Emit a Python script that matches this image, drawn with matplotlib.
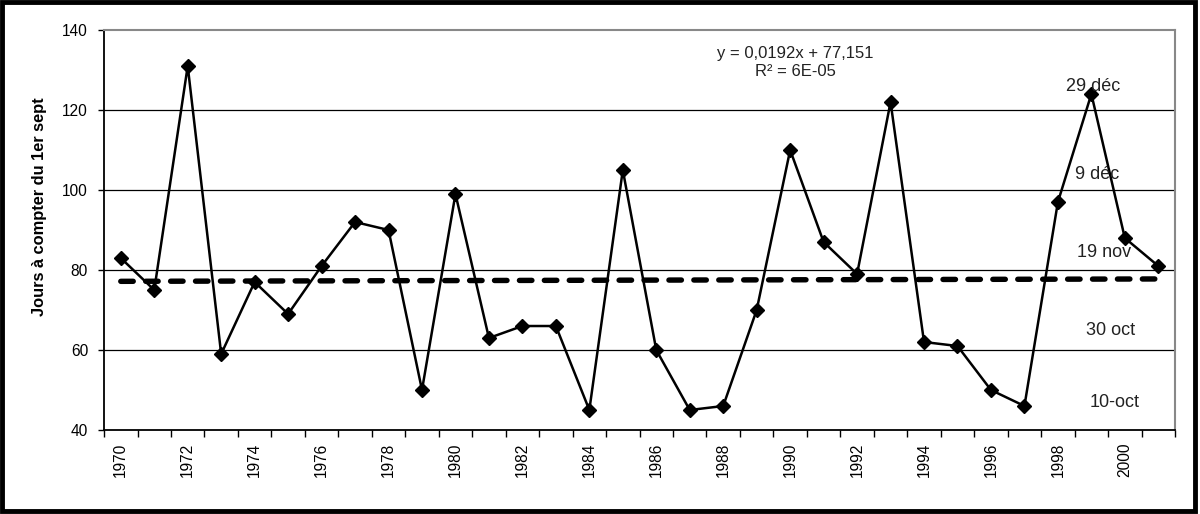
import numpy as np
import matplotlib
matplotlib.use('Agg')
import matplotlib.pyplot as plt
from matplotlib.patches import Rectangle

plt.rcParams['font.family'] = ['Liberation Sans', 'DejaVu Sans']

# jours a compter du 1er sept, une valeur par annee
years = list(range(1970, 2002))
days = [83, 75, 131, 59, 77, 69, 81, 92, 90, 50,
        99, 63, 66, 66, 45, 105, 60, 45, 46, 70,
        110, 87, 79, 122, 62, 61, 50, 46, 97, 124,
        88, 81]

# tendance lineaire (Excel) : y = 0,0192x + 77,151
slope = 0.0192
intercept = 77.151

# reperes de dates a droite
date_labels = ['29 déc', '9 déc', '19 nov', '30 oct', '10-oct']
date_y = [125.8, 103.8, 84.5, 65, 46.8]
date_x = [29.05, 29.18, 29.39, 29.56, 29.7]

fig = plt.figure(figsize=(12, 5.14), dpi=100)
ax = fig.add_axes([0.0867, 0.1634, 0.8925, 0.7782])

x = np.arange(len(years))
ax.plot(x, days, color='black', lw=1.8, marker='D', ms=7, zorder=3)

# droite de tendance
xt = np.array([1, len(years)])
ax.plot(xt - 1, slope * xt + intercept, color='black', lw=3.9,
        dashes=(2.3, 2.3), dash_capstyle='round', zorder=2)

ax.set_xlim(-0.5, len(years) - 0.5)
ax.set_ylim(40, 140)
ax.set_yticks(np.arange(40, 141, 20))
for yv in [60, 80, 100, 120]:
    ax.axhline(yv, color='black', lw=0.9, zorder=1)

ax.set_xticks(x[::2])
ax.set_xticklabels([str(y) for y in years[::2]], rotation=90)
ax.set_xticks(np.arange(-0.5, len(years)), minor=True)
ax.tick_params(axis='x', which='major', length=0, pad=9, labelsize=11.2)
ax.tick_params(axis='x', which='minor', length=5, width=1, direction='out')
ax.tick_params(axis='y', length=4.5, width=1, labelsize=11.2, pad=7)

ax.spines['left'].set_linewidth(1.3)
ax.spines['bottom'].set_linewidth(1.3)
ax.spines['top'].set_color('#888888')
ax.spines['right'].set_color('#888888')
ax.spines['top'].set_linewidth(1.5)
ax.spines['right'].set_linewidth(1.5)

ax.text(20.15, 131.9, 'y = 0,0192x + 77,151\nR² = 6E-05', ha='center', va='center',
        fontsize=12, color='#222222', linespacing=1.2)
for lab, xx, yy in zip(date_labels, date_x, date_y):
    ax.text(xx, yy, lab, ha='center', va='center', fontsize=13, color='#222222')

fig.text(40 / 1200, 1 - 207 / 514, 'Jours à compter du 1er sept', rotation=90,
         ha='center', va='center', fontsize=11.8, fontweight='bold')

# cadre noir autour de l'image
fig.patches.append(Rectangle((0.002, 0.006), 0.994, 0.99, transform=fig.transFigure,
                             fill=False, edgecolor='black', lw=3.5))

fig.savefig('out.png', dpi=100)
